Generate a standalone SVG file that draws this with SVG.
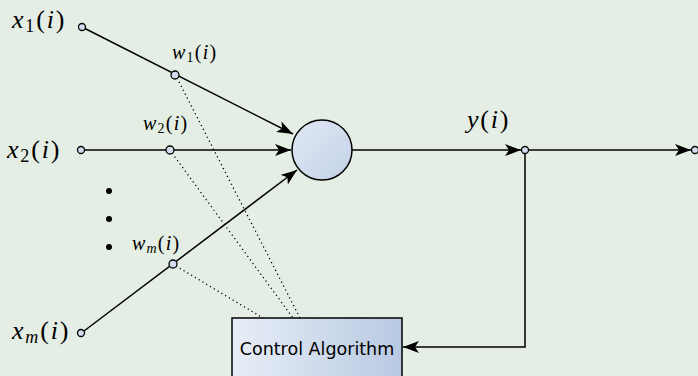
<svg xmlns="http://www.w3.org/2000/svg" width="698" height="376" viewBox="0 0 698 376">
<defs>
<linearGradient id="gNeuron" x1="0" y1="0" x2="1" y2="1">
<stop offset="0" stop-color="#e0e8f4"/>
<stop offset="1" stop-color="#c4d2e8"/>
</linearGradient>
<linearGradient id="gBox" x1="0" y1="0" x2="1" y2="0">
<stop offset="0" stop-color="#e8eef8"/>
<stop offset="1" stop-color="#b8c9e2"/>
</linearGradient>
<marker id="arr" viewBox="0 0 16 12" refX="16" refY="6" markerWidth="16" markerHeight="12" markerUnits="userSpaceOnUse" orient="auto">
<path d="M0,0 L16,6 L0,12 L4,6 z" fill="#000"/>
</marker>
<style>
.ln{stroke:#000;stroke-width:1.5;fill:none}
.dot{stroke:#000;stroke-width:1.3;fill:none;stroke-dasharray:1.2 3.2}
.pt{fill:#d3ddf0;stroke:#000;stroke-width:1.3}
.m{font-family:"Liberation Serif",serif;font-size:26px;letter-spacing:1.8px;fill:#000}
.w{font-family:"Liberation Serif",serif;font-size:20px;letter-spacing:1.2px;fill:#000}
.it{font-style:italic}
.lbl{font-family:"DejaVu Sans",sans-serif;font-size:17.5px;fill:#000}
</style>
</defs>
<rect x="0" y="0" width="698" height="376" fill="#e4eee4"/>

<g id="connectors">
<line class="ln" x1="84" y1="28" x2="293" y2="134" marker-end="url(#arr)"/>
<line class="ln" x1="84" y1="150" x2="291" y2="150" marker-end="url(#arr)"/>
<line class="ln" x1="84" y1="331" x2="297" y2="170" marker-end="url(#arr)"/>
<line class="ln" x1="352" y1="150" x2="521" y2="150" marker-end="url(#arr)"/>
<line class="ln" x1="528" y1="150" x2="691" y2="150" marker-end="url(#arr)"/>
<polyline class="ln" points="525,153 525,347 403,347" marker-end="url(#arr)"/>
<line class="dot" x1="177" y1="78" x2="300" y2="318"/>
<line class="dot" x1="172" y1="153" x2="293" y2="318"/>
<line class="dot" x1="176" y1="266" x2="263" y2="318"/>
</g>

<g id="x1"><circle class="pt" cx="82" cy="27" r="3.5"/>
<text class="m" x="12" y="28"><tspan class="it">x</tspan><tspan font-size="18" dy="4">1</tspan><tspan dy="-4">(</tspan><tspan class="it">i</tspan>)</text></g>
<g id="x2"><circle class="pt" cx="81" cy="150" r="3.5"/>
<text class="m" x="7" y="158"><tspan class="it">x</tspan><tspan font-size="18" dy="4">2</tspan><tspan dy="-4">(</tspan><tspan class="it">i</tspan>)</text></g>
<g id="xm"><circle class="pt" cx="81" cy="333" r="3.5"/>
<text class="m" x="12" y="339" letter-spacing="2.6"><tspan class="it">x</tspan><tspan class="it" font-size="18" dy="4">m</tspan><tspan dy="-4">(</tspan><tspan class="it">i</tspan>)</text></g>

<g id="w1"><circle class="pt" cx="175" cy="75" r="4"/>
<text class="w" x="172" y="59"><tspan class="it">w</tspan><tspan font-size="14" dy="3">1</tspan><tspan dy="-3">(</tspan><tspan class="it">i</tspan>)</text></g>
<g id="w2"><circle class="pt" cx="170" cy="150" r="4"/>
<text class="w" x="143" y="130"><tspan class="it">w</tspan><tspan font-size="14" dy="3">2</tspan><tspan dy="-3">(</tspan><tspan class="it">i</tspan>)</text></g>
<g id="wm"><circle class="pt" cx="173" cy="264" r="4"/>
<text class="w" x="132" y="250" letter-spacing="2.2"><tspan class="it">w</tspan><tspan class="it" font-size="14" dy="3">m</tspan><tspan dy="-3">(</tspan><tspan class="it">i</tspan>)</text></g>

<g id="dots">
<circle cx="109" cy="191" r="3" fill="#000"/>
<circle cx="109" cy="219" r="3" fill="#000"/>
<circle cx="109" cy="247" r="3" fill="#000"/>
</g>

<g id="neuron"><circle cx="322" cy="150" r="30" fill="url(#gNeuron)" stroke="#000" stroke-width="1.5"/></g>

<g id="y"><circle class="pt" cx="525" cy="150" r="3.5"/>
<text class="m" x="467" y="128" font-size="28" letter-spacing="3"><tspan class="it">y</tspan>(<tspan class="it">i</tspan>)</text></g>

<g id="out"><circle class="pt" cx="695" cy="150" r="3.5"/></g>

<g id="control">
<rect x="232" y="318" width="170" height="70" fill="url(#gBox)" stroke="#000" stroke-width="1.5"/>
<text class="lbl" x="317" y="355" text-anchor="middle">Control Algorithm</text>
</g>
</svg>
